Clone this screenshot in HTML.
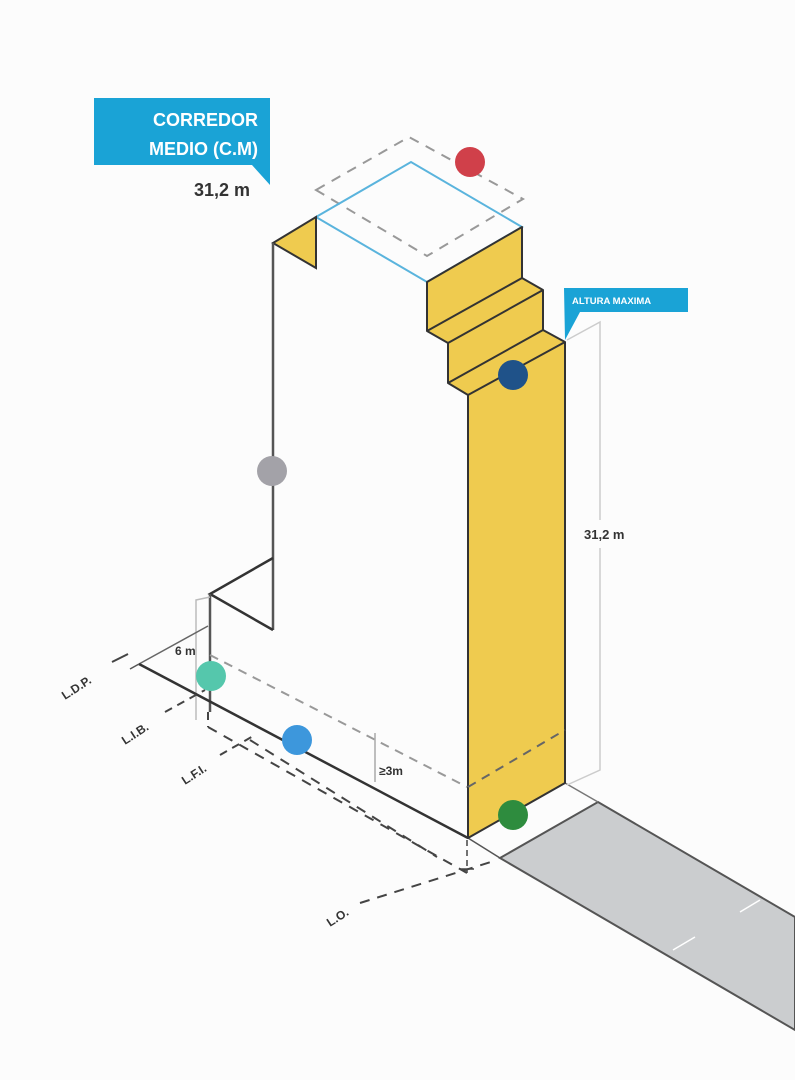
<!DOCTYPE html>
<html><head><meta charset="utf-8"><style>
html,body{margin:0;padding:0;background:#fdfdfd;}
svg{display:block;}
text{font-family:"Liberation Sans",Arial,sans-serif;}
</style></head><body>
<svg width="795" height="1080" viewBox="0 0 795 1080" xmlns="http://www.w3.org/2000/svg">
<rect width="795" height="1080" fill="#fcfcfc"/>
<!-- road -->
<polygon points="500,858 598,802 795,917 795,1030" fill="#cbcdcf" stroke="#555" stroke-width="2"/>
<line x1="468" y1="838" x2="500" y2="858" stroke="#555" stroke-width="1.5"/>
<line x1="565" y1="783" x2="598" y2="802" stroke="#777" stroke-width="1.5"/>
<line x1="673" y1="950" x2="695" y2="937" stroke="#fff" stroke-width="1.5"/>
<line x1="740" y1="912" x2="760" y2="900" stroke="#fff" stroke-width="1.5"/>
<!-- dashed top rhombus -->
<polygon points="316,190 409,137 523,199 427,256" fill="none" stroke="#999" stroke-width="2" stroke-dasharray="10,8"/>
<!-- blue top -->
<polygon points="316,217 411,162 522,227 427,282" fill="none" stroke="#5ab4dd" stroke-width="2"/>
<!-- small yellow triangle -->
<polygon points="273,243 316,217 316,268" fill="#efcb4f" stroke="#333" stroke-width="2"/>
<!-- yellow stepped facade -->
<polygon points="427,282 522,227 522,278 543,290 543,330 565,342 565,783 468,838 468,395 448,383 448,343 427,331" fill="#efcb4f" stroke="#333" stroke-width="2" stroke-linejoin="round"/>
<polyline points="427,331 522,278" fill="none" stroke="#333" stroke-width="2"/>
<polyline points="448,343 543,290" fill="none" stroke="#333" stroke-width="2"/>
<polyline points="448,383 543,330" fill="none" stroke="#333" stroke-width="2"/>
<polyline points="468,395 565,342" fill="none" stroke="#333" stroke-width="2"/>
<line x1="468" y1="787" x2="565" y2="730" stroke="#666" stroke-width="2" stroke-dasharray="9,7"/>
<!-- left wall -->
<line x1="273" y1="243" x2="273" y2="630" stroke="#555" stroke-width="2.5"/>
<polyline points="273,558 210,594 273,630" fill="none" stroke="#333" stroke-width="2.5"/>
<line x1="210" y1="594" x2="210" y2="712" stroke="#555" stroke-width="2.5"/>
<polyline points="196,720 196,600 210,597" fill="none" stroke="#bbb" stroke-width="1.5"/>
<line x1="139" y1="664" x2="208" y2="626" stroke="#666" stroke-width="1.5"/>
<line x1="139" y1="664" x2="468" y2="838" stroke="#333" stroke-width="2.5"/>
<line x1="130" y1="669" x2="139" y2="664" stroke="#555" stroke-width="1.5"/>
<!-- dashed setback line -->
<line x1="210" y1="655" x2="467" y2="787" stroke="#999" stroke-width="2" stroke-dasharray="9,7"/>
<line x1="375" y1="733" x2="375" y2="782" stroke="#aaa" stroke-width="1.5"/>
<!-- dashed property lines -->
<line x1="208" y1="712" x2="208" y2="727" stroke="#444" stroke-width="2" stroke-dasharray="8,6"/>
<line x1="208" y1="727" x2="467" y2="873" stroke="#444" stroke-width="2" stroke-dasharray="10,8"/>
<line x1="250" y1="740" x2="437" y2="857" stroke="#444" stroke-width="2" stroke-dasharray="10,8"/>
<line x1="220" y1="755" x2="255" y2="735" stroke="#444" stroke-width="2" stroke-dasharray="8,6"/>
<line x1="165" y1="712" x2="205" y2="690" stroke="#444" stroke-width="2" stroke-dasharray="8,6"/>
<line x1="112" y1="662" x2="128" y2="654" stroke="#444" stroke-width="2"/>
<line x1="360" y1="903" x2="497" y2="860" stroke="#444" stroke-width="2" stroke-dasharray="10,8"/>
<line x1="467" y1="840" x2="467" y2="873" stroke="#444" stroke-width="1.5" stroke-dasharray="6,4"/>
<line x1="460" y1="869" x2="474" y2="869" stroke="#444" stroke-width="1.5"/>
<!-- dimension right -->
<polyline points="567,340 600,322 600,770 567,785" fill="none" stroke="#ccc" stroke-width="1.5"/>
<rect x="588" y="520" width="30" height="28" fill="#fcfcfc"/>
<text x="584" y="539" font-size="13" font-weight="bold" fill="#333">31,2 m</text>
<!-- labels -->
<polygon points="94,98 270,98 270,185 252,165 94,165" fill="#1aa3d6"/>
<text x="258" y="126" font-size="18" font-weight="bold" fill="#fff" text-anchor="end">CORREDOR</text>
<text x="258" y="155" font-size="18" font-weight="bold" fill="#fff" text-anchor="end">MEDIO (C.M)</text>
<text x="250" y="196" font-size="18" font-weight="bold" fill="#333" text-anchor="end">31,2 m</text>
<polygon points="564,288 688,288 688,312 580,312 565,340" fill="#1aa3d6"/>
<text x="572" y="304" font-size="9.5" font-weight="bold" fill="#fff">ALTURA MAXIMA</text>
<text x="175" y="655" font-size="12" font-weight="bold" fill="#333">6 m</text>
<text x="379" y="775" font-size="12" font-weight="bold" fill="#333">≥3m</text>
<g font-size="12" font-weight="bold" fill="#333">
<text transform="translate(65,700) rotate(-33)">L.D.P.</text>
<text transform="translate(125,745) rotate(-33)">L.I.B.</text>
<text transform="translate(185,785) rotate(-33)">L.F.I.</text>
<text transform="translate(330,927) rotate(-33)">L.O.</text>
</g>
<!-- dots -->
<circle cx="470" cy="162" r="15" fill="#d0404a"/>
<circle cx="513" cy="375" r="15" fill="#1f5289"/>
<circle cx="272" cy="471" r="15" fill="#a3a2a8"/>
<circle cx="211" cy="676" r="15" fill="#55c7ac"/>
<circle cx="297" cy="740" r="15" fill="#3d97dc"/>
<circle cx="513" cy="815" r="15" fill="#2e8c3e"/>
</svg>
</body></html>
